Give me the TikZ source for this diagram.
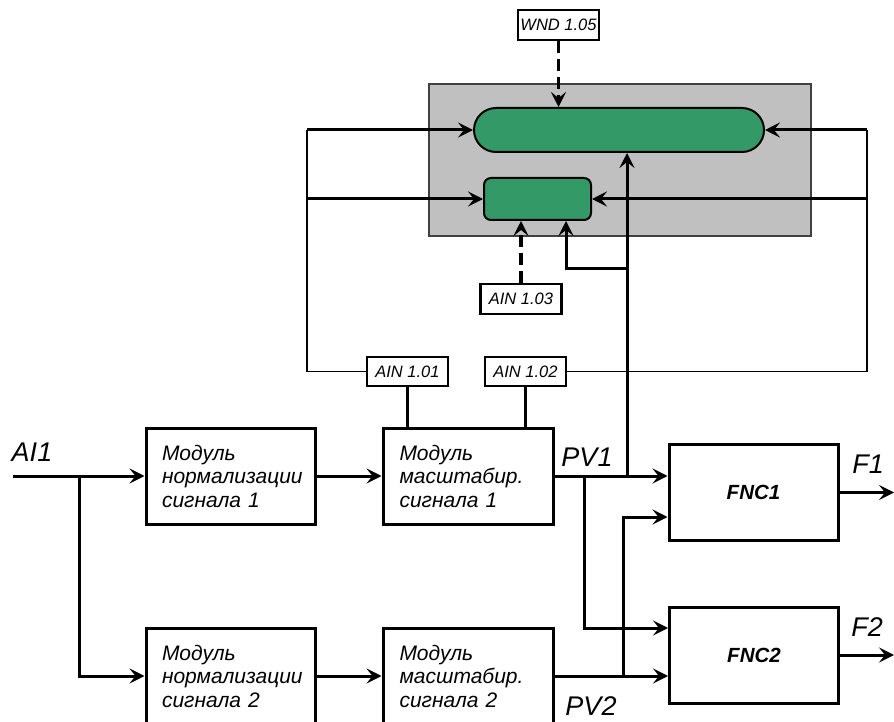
\documentclass[tikz,border=0pt]{standalone}
\usepackage{fontspec}
\setmainfont{Liberation Sans}
\usetikzlibrary{arrows.meta}
\definecolor{grn}{HTML}{339966}
\definecolor{gry}{HTML}{C0C0C0}
\definecolor{gryedge}{HTML}{404040}
\begin{document}
\begin{tikzpicture}[x=1pt,y=-1pt,
  thk/.style={line width=3pt},
  thn/.style={line width=1.6pt},
  arr/.style={-{Stealth[length=15pt,width=15pt,inset=6pt]}},
  dsh/.style={line width=3.5pt,dash pattern=on 12pt off 6pt},
  modbox/.style={draw,line width=3pt,minimum width=169pt,minimum height=96pt,text width=137pt,inner xsep=0pt,align=left,font=\itshape\fontsize{21}{23.5}\selectfont},
  fncbox/.style={draw,line width=3pt,minimum width=169pt,minimum height=96pt,font=\bfseries\itshape\fontsize{20.5}{24}\selectfont},
  ainbox/.style={draw,fill=white,line width=2.5pt,minimum width=81pt,minimum height=29pt,inner sep=0pt,font=\itshape\fontsize{16.5}{18}\selectfont},
  biglbl/.style={font=\itshape\fontsize{27}{30}\selectfont,inner sep=0pt},
]
\useasboundingbox (0,0) rectangle (894,722);

% upper group
\node[draw=gryedge,fill=gry,line width=2pt,minimum width=382pt,minimum height=152pt,inner sep=0pt] (grp) at (620,160) {};
\node[draw,fill=grn,line width=2pt,minimum width=290pt,minimum height=44pt,rounded corners=22pt,inner sep=0pt] (pill) at (619,130) {};
\node[draw,fill=grn,line width=2pt,minimum width=107pt,minimum height=42pt,rounded corners=7pt,inner sep=0pt] (small) at (537.5,199) {};

\node[ainbox,minimum height=30pt] (wnd) at (558.5,25) {WND 1.05};
\node[ainbox,minimum height=30pt] (ain3) at (521,299) {AIN 1.03};
\node[ainbox] (ain1) at (407.5,371.5) {AIN 1.01};
\node[ainbox] (ain2) at (525.5,371.5) {AIN 1.02};

% modules
\node[modbox] (m1) at (230.5,476) {Модуль\\нормализации\\сигнала 1};
\node[modbox,minimum width=170pt] (m3) at (468,476) {Модуль\\масштабир.\\сигнала 1};
\node[modbox] (m2) at (230.5,676) {Модуль\\нормализации\\сигнала 2};
\node[modbox,minimum width=170pt] (m4) at (468,676) {Модуль\\масштабир.\\сигнала 2};
\node[fncbox] (fnc1) at (753.5,492.5) {FNC1};
\node[fncbox] (fnc2) at (754,655) {FNC2};

% labels
\node[biglbl] (lai) at (32,452) {AI1};
\node[biglbl] (lpv1) at (587,457) {PV1};
\node[biglbl] (lpv2) at (591,706) {PV2};
\node[biglbl] (lf1) at (868,464) {F1};
\node[biglbl] (lf2) at (867,627) {F2};

% coordinates
\coordinate (ai) at (13,476);
\coordinate (br1) at (79,476);
\coordinate (pvA) at (584,476);
\coordinate (pvB) at (623,676);
\coordinate (pvC) at (627,476);
\coordinate (jn) at (627,268);
\coordinate (ltop) at (307,130);
\coordinate (lmid) at (307,199);
\coordinate (rtop) at (867,130);
\coordinate (rmid) at (867,199);
\coordinate (f1out) at (894,492.5);
\coordinate (f2out) at (894,655);

% connectors
\draw[thk,arr] (ai) -- (m1.west);
\draw[thk,arr] (br1) |- (m2.west);
\draw[thk,arr] (m1.east) -- (m3.west);
\draw[thk,arr] (m2.east) -- (m4.west);
\draw[thk,arr] (m3.east) -- (m3.east -| fnc1.west);
\draw[thk,arr] (pvA) |- ([yshift=27pt]fnc2.west);
\draw[thk,arr] (m4.east) -- (m4.east -| fnc2.west);
\draw[thk,arr] (pvB) |- ([yshift=-24.5pt]fnc1.west);
\draw[thk,arr] (pvC) -- (pvC |- pill.south);
\draw[thk,arr] (jn) -| ([xshift=28.5pt]small.south);
\draw[thk,arr] (fnc1.east) -- (f1out);
\draw[thk,arr] (fnc2.east) -- (f2out);
\draw[thk] (ain1.south) -- (ain1.south |- m3.north);
\draw[thk] (ain2.south) -- (ain2.south |- m3.north);
\draw[dsh,arr] (wnd.south) -- (wnd.south |- pill.north);
\draw[dsh,arr] (ain3.north) -- (ain3.north |- small.south);
\draw[thn] (ain1.west) -| (ltop);
\draw[thk,arr] (ltop) -- (pill.west);
\draw[thk,arr] (lmid) -- (small.west);
\draw[thn] (ain2.east) -| (rtop);
\draw[thk,arr] (rtop) -- (pill.east);
\draw[thk,arr] (rmid) -- (small.east);
\end{tikzpicture}
\end{document}
